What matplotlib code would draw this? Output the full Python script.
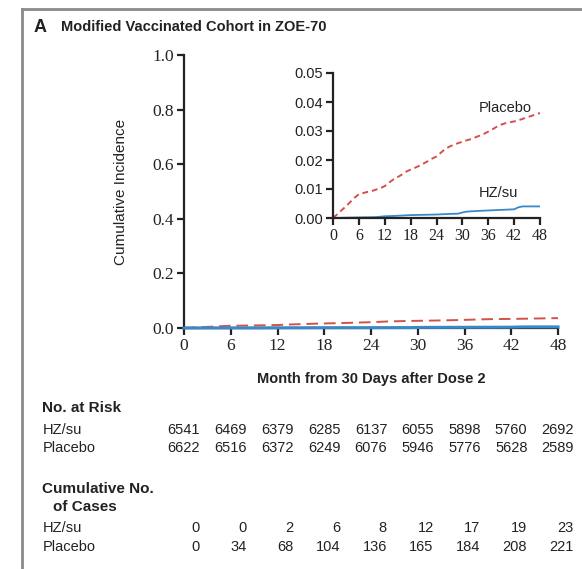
import matplotlib
matplotlib.use("Agg")
import matplotlib.pyplot as plt
from matplotlib.lines import Line2D
from matplotlib.transforms import blended_transform_factory

plt.rcParams["font.family"] = ["Liberation Sans", "DejaVu Sans"]

# data
months = [0, 6, 12, 18, 24, 30, 36, 42, 48]
at_risk_hz = [6541, 6469, 6379, 6285, 6137, 6055, 5898, 5760, 2692]
at_risk_pl = [6622, 6516, 6372, 6249, 6076, 5946, 5776, 5628, 2589]
cases_hz = [0, 0, 2, 6, 8, 12, 17, 19, 23]
cases_pl = [0, 34, 68, 104, 136, 165, 184, 208, 221]

pl_t = list(range(49))
pl_y = [0, 0.0013, 0.0027, 0.004, 0.0055, 0.007, 0.0082, 0.0086, 0.009, 0.0093,
        0.0098, 0.0103, 0.011, 0.0122, 0.0133, 0.0141, 0.015, 0.016, 0.0167, 0.0173,
        0.018, 0.0188, 0.0196, 0.0205, 0.0212, 0.0225, 0.0238, 0.0246, 0.0253, 0.0258,
        0.0263, 0.0268, 0.0272, 0.0278, 0.0284, 0.029, 0.0298, 0.0306, 0.0315, 0.0322,
        0.0327, 0.033, 0.0333, 0.0337, 0.0342, 0.0347, 0.0352, 0.0357, 0.0362]
hz_t = [0, 6, 10, 12, 14, 18, 21, 24, 27, 29, 30, 31, 33, 36, 39, 42, 43, 44, 48]
hz_y = [0, 0.0002, 0.0003, 0.0006, 0.0007, 0.0010, 0.0011, 0.0012, 0.0014, 0.0015,
        0.0019, 0.0022, 0.0024, 0.0026, 0.0028, 0.0030, 0.0037, 0.0040, 0.0040]

RED = "#d4514b"
BLUE = "#3a88c6"
INK = "#222222"
SERIF = ["Liberation Serif", "DejaVu Serif"]

fig = plt.figure(figsize=(5.82, 5.69), dpi=100)

# panel frame (top and left only)
fig.add_artist(Line2D([22 / 582, 1], [1 - 9 / 569] * 2, color="#8a8a8a", lw=2))
fig.add_artist(Line2D([22 / 582] * 2, [0, 1 - 9 / 569], color="#8a8a8a", lw=2))

fig.text(34 / 582, 1 - 27 / 569, "A", fontsize=13, fontweight="bold", color=INK, va="center")
fig.text(61 / 582, 1 - 27 / 569, "Modified Vaccinated Cohort in ZOE-70", fontsize=10.5,
         fontweight="bold", color=INK, va="center")


def style(ax):
    for s in ("top", "right"):
        ax.spines[s].set_visible(False)
    for s in ("left", "bottom"):
        ax.spines[s].set_linewidth(1.6)
        ax.spines[s].set_color(INK)
    ax.tick_params(direction="out", length=5, width=1.6, colors=INK, pad=2)
    ax.set_facecolor("none")


# main axes
ax = fig.add_axes([184 / 582, 1 - 328 / 569, 374 / 582, 273 / 569])
ax.plot(pl_t, pl_y, color=RED, lw=1.4, ls=(0, (6, 3)), zorder=4, clip_on=False)
ax.plot(hz_t, hz_y, color=BLUE, lw=2.2, zorder=5, clip_on=False)
ax.set_xlim(0, 48)
ax.set_ylim(0, 1.0)
ax.set_xticks(months)
ax.set_xticklabels([str(m) for m in months], family=SERIF, fontsize=12.5)
ax.set_yticks([0, 0.2, 0.4, 0.6, 0.8, 1.0])
ax.set_yticklabels(["0.0", "0.2", "0.4", "0.6", "0.8", "1.0"], family=SERIF, fontsize=12.5)
style(ax)
ax.set_ylabel("Cumulative Incidence", fontsize=11, color=INK)
ax.yaxis.set_label_coords(-0.15, 0.5)
ax.set_xlabel("Month from 30 Days after Dose 2", fontsize=10.5, fontweight="bold", color=INK)
ax.xaxis.set_label_coords(0.5, -0.161)

# inset axes
ins = fig.add_axes([333 / 582, 1 - 218 / 569, 207 / 582, 145 / 569])
ins.plot(pl_t, pl_y, color=RED, lw=1.4, ls=(0, (3, 2)))
ins.plot(hz_t, hz_y, color=BLUE, lw=1.3)
ins.set_xlim(0, 48)
ins.set_ylim(0, 0.05)
ins.set_xticks(months)
ins.set_xticklabels([str(m) for m in months], family=SERIF, fontsize=11.5)
ins.set_yticks([0, 0.01, 0.02, 0.03, 0.04, 0.05])
ins.set_yticklabels(["0.00", "0.01", "0.02", "0.03", "0.04", "0.05"], fontsize=10.5)
style(ins)
ins.text(40, 0.038, "Placebo", fontsize=10.5, color=INK, ha="center", va="center")
ins.text(38.3, 0.0087, "HZ/su", fontsize=10.5, color=INK, ha="center", va="center")

# tables below the chart
tr = blended_transform_factory(ax.transData, fig.transFigure)


def fy(py):
    return 1 - py / 569


fig.text(42 / 582, fy(408), "No. at Risk", fontsize=11, fontweight="bold", color=INK, va="center")
fig.text(43 / 582, fy(430), "HZ/su", fontsize=10.5, color=INK, va="center")
fig.text(43 / 582, fy(448), "Placebo", fontsize=10.5, color=INK, va="center")
for m, a, b in zip(months, at_risk_hz, at_risk_pl):
    ax.text(m, fy(430), str(a), transform=tr, fontsize=10.5, color=INK, ha="center", va="center")
    ax.text(m, fy(448), str(b), transform=tr, fontsize=10.5, color=INK, ha="center", va="center")

fig.text(42 / 582, fy(489), "Cumulative No.", fontsize=11, fontweight="bold", color=INK, va="center")
fig.text(53 / 582, fy(507), "of Cases", fontsize=11, fontweight="bold", color=INK, va="center")
fig.text(43 / 582, fy(528), "HZ/su", fontsize=10.5, color=INK, va="center")
fig.text(43 / 582, fy(547), "Placebo", fontsize=10.5, color=INK, va="center")
for m, a, b in zip(months, cases_hz, cases_pl):
    ax.text(m + 2.05, fy(528), str(a), transform=tr, fontsize=10.5, color=INK, ha="right", va="center")
    ax.text(m + 2.05, fy(547), str(b), transform=tr, fontsize=10.5, color=INK, ha="right", va="center")

fig.savefig("out.png", dpi=100)
